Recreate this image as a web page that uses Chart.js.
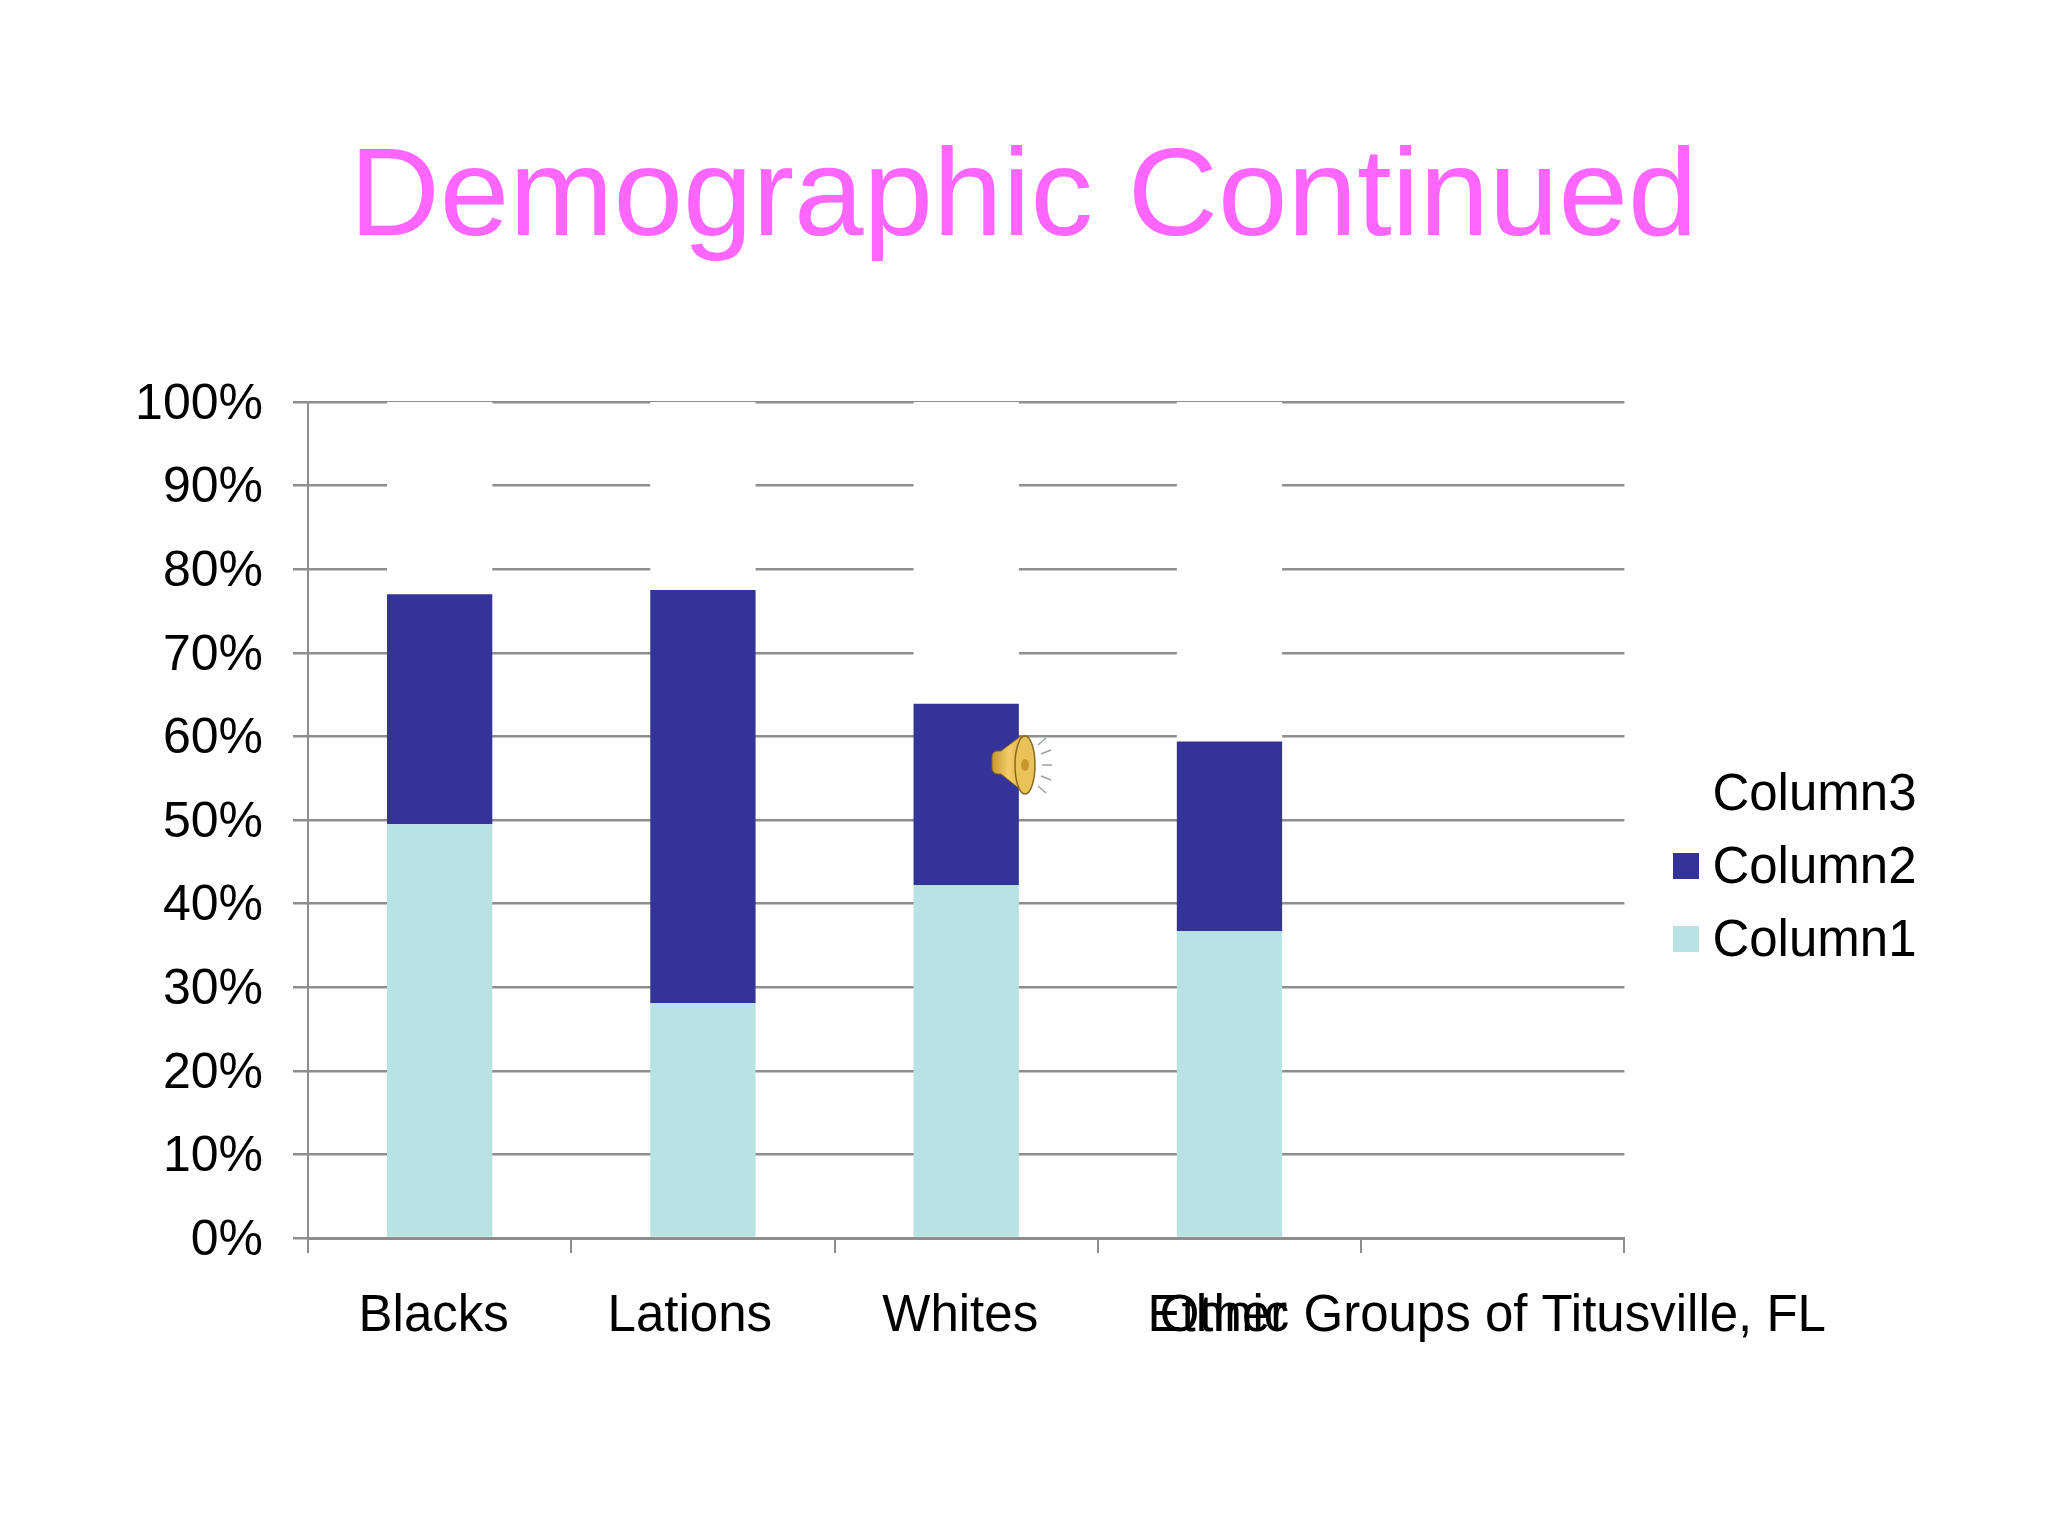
<!DOCTYPE html>
<html>
<head>
<meta charset="utf-8">
<title>Demographic Continued</title>
<style>
  html, body { margin: 0; padding: 0; background: #fefefe; }
  #wrap { position: relative; width: 2048px; height: 1536px; }
  #speaker { position: absolute; left: 988px; top: 730px; }
</style>
<script src="https://cdn.jsdelivr.net/npm/chart.js@4/dist/chart.umd.min.js"></script>
</head>
<body>
<div id="wrap">
  <canvas id="demoChart" width="2048" height="1536"></canvas>
  <svg id="speaker" width="70" height="70" viewBox="0 0 70 70">
    <defs>
      <linearGradient id="horn" x1="0" y1="0" x2="1" y2="0">
        <stop offset="0" stop-color="#c9962e"/>
        <stop offset="0.5" stop-color="#f3cd6a"/>
        <stop offset="1" stop-color="#d9a63a"/>
      </linearGradient>
    </defs>
    <path d="M4 27 Q4 21 10 21 L13 21 L33 6 L38 64 L13 44 L10 44 Q4 44 4 37 Z" fill="url(#horn)" stroke="#8a6a1c" stroke-width="1"/>
    <ellipse cx="37" cy="35" rx="10" ry="29" fill="#e9c35a" stroke="#8a6a1c" stroke-width="1.5"/>
    <ellipse cx="37" cy="35" rx="4" ry="6" fill="#c9962e"/>
    <g stroke="#9aa0a0" stroke-width="1.5">
      <line x1="50" y1="15" x2="58" y2="8"/>
      <line x1="53" y1="24" x2="63" y2="20"/>
      <line x1="54" y1="35" x2="64" y2="35"/>
      <line x1="53" y1="46" x2="63" y2="50"/>
      <line x1="50" y1="56" x2="58" y2="63"/>
    </g>
  </svg>
</div>
<script>
'use strict';

// trailing space on Lations: the reference label sits further left than the others
const CATEGORIES = ['Blacks', 'Lations ', 'Whites', 'Other', 'Ethnic Groups of Titusville, FL'];
const COLUMN1 = [49.5, 28.1, 42.2, 36.7, null];
const COLUMN2 = [27.5, 49.4, 21.7, 22.7, null];
const COLUMN3 = [23.0, 22.5, 36.1, 40.6, null];
const Y_TICK_STEP = 10;

const FONT_FAMILY = '"Liberation Sans", Arial, sans-serif';
const AXIS_GREY = '#8e8e8e';

// legend gap between box and text is fixed at font size / 2, so use an image swatch
// (canvas is taller than the square so the square sits a little above the text middle)
function swatch(color) {
    const c = document.createElement('canvas');
    c.width = 26;
    c.height = 32;
    const ctx = c.getContext('2d');
    ctx.fillStyle = color;
    ctx.fillRect(0, 0, 26, 26);
    return c;
}

// title and legend sit off where the layout would put them
const nudgeBoxes = {
    id: 'nudgeBoxes',
    afterLayout(chart) {
        chart.legend.left += 39.5;
        chart.legend.right += 39.5;
        chart.legend.top += 185;
        chart.legend.bottom += 185;
        chart.titleBlock.left += 26;
        chart.titleBlock.right += 26;
    }
};

new Chart(document.getElementById('demoChart'), {
    type: 'bar',
    data: {
        labels: CATEGORIES,
        datasets: [
            { label: 'Column1', data: COLUMN1, backgroundColor: '#b9e2e3', pointStyle: swatch('#b9e2e3') },
            { label: 'Column2', data: COLUMN2, backgroundColor: '#333399', pointStyle: swatch('#333399') },
            { label: 'Column3', data: COLUMN3, backgroundColor: '#fefefe', pointStyle: swatch('#fefefe') }
        ]
    },
    options: {
        responsive: false,
        animation: false,
        devicePixelRatio: 1,
        layout: { padding: { left: 108, right: 161, bottom: 168, top: 0 } },
        datasets: { bar: { barPercentage: 0.4, categoryPercentage: 1, borderWidth: 0 } },
        plugins: {
            tooltip: { enabled: false },
            title: {
                display: true,
                text: 'Demographic Continued',
                color: '#ff66ff',
                font: { family: FONT_FAMILY, size: 125, weight: 'normal' },
                padding: { top: 126, bottom: 126 }
            },
            legend: {
                position: 'right',
                reverse: true,
                labels: {
                    color: '#000000',
                    font: { family: FONT_FAMILY, size: 51 },
                    usePointStyle: true,
                    pointStyleWidth: 1,
                    boxHeight: 26,
                    padding: 22
                }
            }
        },
        scales: {
            x: {
                stacked: true,
                afterFit(scale) { scale.height = 130; },
                grid: { drawOnChartArea: false, color: AXIS_GREY, lineWidth: 2, tickLength: 15 },
                border: { color: AXIS_GREY, width: 3 },
                ticks: {
                    color: '#000000',
                    font: { family: FONT_FAMILY, size: 51 },
                    autoSkip: false,
                    maxRotation: 0,
                    minRotation: 0,
                    padding: 33,
                    labelOffset: -6
                }
            },
            y: {
                stacked: true,
                min: 0,
                max: 100,
                afterFit(scale) { scale.width = 200; },
                grid: { color: AXIS_GREY, lineWidth: 2.5, tickLength: 15 },
                border: { color: AXIS_GREY, width: 2 },
                ticks: {
                    color: '#000000',
                    font: { family: FONT_FAMILY, size: 50 },
                    stepSize: Y_TICK_STEP,
                    padding: 30,
                    labelOffset: 3,
                    callback: v => v + '%'
                }
            }
        }
    },
    plugins: [nudgeBoxes]
});
</script>
</body>
</html>
